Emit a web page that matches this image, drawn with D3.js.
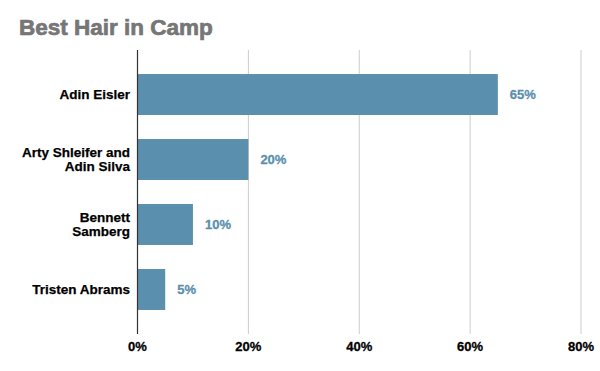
<!DOCTYPE html>
<html>
<head>
<meta charset="utf-8">
<script src="https://cdn.jsdelivr.net/npm/d3@7"></script>
<style>
  body { margin: 0; background: #fff; }
  svg { display: block; font-family: "Liberation Sans", Arial, sans-serif; }
  .heavy { paint-order: stroke; stroke-linejoin: round; }
</style>
</head>
<body>
<svg id="chart" width="600" height="371"></svg>
<script>
const names = [["Adin Eisler"], ["Arty Shleifer and", "Adin Silva"], ["Bennett", "Samberg"], ["Tristen Abrams"]];
const shares = [65, 20, 10, 5];
const ticks = [0, 20, 40, 60, 80];

const svg = d3.select("#chart");
const ids = names.map((d, i) => i);

const x = d3.scaleLinear().domain([0, 80]).range([137.5, 581]);
const y = d3.scaleBand().domain(ids).range([50, 334]).paddingInner(0.37).paddingOuter(0.37);

// title
svg.append("text")
  .attr("class", "heavy")
  .attr("x", 19).attr("y", 35)
  .attr("fill", "#767676").attr("stroke", "#767676").attr("stroke-width", 0.7)
  .attr("font-size", 22.5).attr("font-weight", "bold")
  .text("Best Hair in Camp");

// grid
svg.append("g").selectAll("line").data(ticks.slice(1)).join("line")
  .attr("x1", d => x(d)).attr("x2", d => x(d))
  .attr("y1", 50).attr("y2", 334)
  .attr("stroke", "#cccccc").attr("stroke-width", 1);

// bars
svg.append("g").selectAll("rect").data(shares).join("rect")
  .attr("x", x(0))
  .attr("y", (d, i) => y(i))
  .attr("width", d => x(d) - x(0))
  .attr("height", y.bandwidth())
  .attr("fill", "#5a8fae");

// value labels
svg.append("g").selectAll("text").data(shares).join("text")
  .attr("class", "heavy")
  .attr("x", d => x(d) + 12)
  .attr("y", (d, i) => y(i) + y.bandwidth() / 2)
  .attr("dy", "0.35em")
  .attr("fill", "#5a8fae").attr("stroke", "#5a8fae").attr("stroke-width", 0.3)
  .attr("font-size", 13).attr("font-weight", "bold")
  .text(d => d + "%");

// axis line
svg.append("line")
  .attr("x1", x(0)).attr("x2", x(0))
  .attr("y1", 50).attr("y2", 334)
  .attr("stroke", "#333").attr("stroke-width", 1.2);

// category labels
const lbl = svg.append("g").selectAll("text").data(names).join("text")
  .attr("class", "heavy")
  .attr("text-anchor", "end")
  .attr("font-size", 13.5).attr("font-weight", "bold")
  .attr("fill", "#000").attr("stroke", "#000").attr("stroke-width", 0.25);
lbl.each(function (lines, i) {
  const cy = y(i) + y.bandwidth() / 2;
  const lh = 14;
  d3.select(this).selectAll("tspan").data(lines).join("tspan")
    .attr("x", 130)
    .attr("y", (d, j) => cy + (j - (lines.length - 1) / 2) * lh)
    .attr("dy", "0.35em")
    .text(d => d);
});

// tick labels
svg.append("g").selectAll("text").data(ticks).join("text")
  .attr("class", "heavy")
  .attr("x", d => x(d))
  .attr("y", 351)
  .attr("text-anchor", "middle")
  .attr("font-size", 13).attr("font-weight", "bold")
  .attr("fill", "#000").attr("stroke", "#000").attr("stroke-width", 0.3)
  .text(d => d + "%");
</script>
</body>
</html>
